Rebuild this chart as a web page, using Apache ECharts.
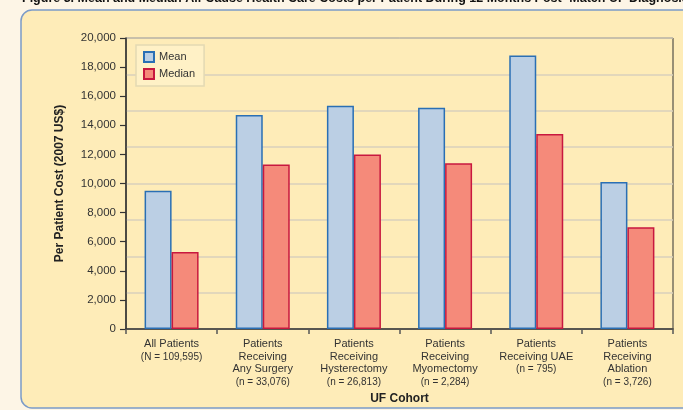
<!DOCTYPE html>
<html>
<head>
<meta charset="utf-8">
<script src="https://cdn.jsdelivr.net/npm/echarts@6/dist/echarts.min.js"></script>
<style>
  html, body { margin: 0; padding: 0; background: #fdf5e6; }
  #chart { width: 683px; height: 410px; }
</style>
</head>
<body>
<div id="chart"></div>
<script>
// Cohort names and sample sizes shown under each group of bars
const cohorts = ['All Patients', 'Patients\nReceiving\nAny Surgery', 'Patients\nReceiving\nHysterectomy',
  'Patients\nReceiving\nMyomectomy', 'Patients\nReceiving UAE', 'Patients\nReceiving\nAblation'];
const cohortSizes = ['(N = 109,595)', '(n = 33,076)', '(n = 26,813)', '(n = 2,284)', '(n = 795)', '(n = 3,726)'];

// Per patient cost, 2007 US$
const meanCost = [9500, 14700, 15350, 15200, 18800, 10100];
const medianCost = [5300, 11300, 12000, 11400, 13400, 7000];

const titleText = 'Figure 3. Mean and Median All-Cause Health Care Costs per Patient During 12 Months Post- Match UF Diagnosis';

const categories = cohorts.map((c, i) => c + '\n' + cohortSizes[i]);

const chart = echarts.init(document.getElementById('chart'), null, { renderer: 'canvas' });
const font = 'Liberation Sans, Arial, sans-serif';

chart.setOption({
  animation: false,
  backgroundColor: '#fdf5e6',
  textStyle: { fontFamily: font },
  graphic: [
    {
      type: 'rect', z: -100, silent: true,
      shape: { x: 21, y: 10, width: 720, height: 398, r: 11 },
      style: { fill: '#feecb8', stroke: '#7b9bc8', lineWidth: 1.5 }
    },
    {
      type: 'text', z: 10, left: 22, top: -8,
      style: { text: titleText, font: 'bold 12.5px ' + font, fill: '#111' }
    }
  ],
  legend: {
    orient: 'vertical',
    left: 136, top: 45,
    padding: [6, 9, 6, 7],
    itemGap: 5,
    itemWidth: 10, itemHeight: 10,
    icon: 'rect',
    backgroundColor: '#fff1c6',
    borderColor: '#e3d9b3',
    borderWidth: 1.5,
    textStyle: { fontSize: 11, color: '#333', fontFamily: font },
    data: ['Mean', 'Median']
  },
  grid: {
    left: 126, right: 10, top: 38, bottom: 78,
    show: true, borderColor: '#333', borderWidth: 1, backgroundColor: 'transparent'
  },
  xAxis: {
    type: 'category',
    data: categories,
    name: 'UF Cohort',
    nameLocation: 'middle',
    nameGap: 64,
    nameTextStyle: { fontSize: 12, fontWeight: 'bold', color: '#222', fontFamily: font },
    axisLine: { lineStyle: { color: '#333', width: 1.5 } },
    axisTick: { show: true, length: 5, lineStyle: { color: '#555', width: 1.5 } },
    axisLabel: {
      interval: 0, margin: 9,
      formatter: function (v) {
        const parts = v.split('\n');
        const n = parts.pop();
        return parts.map(p => '{m|' + p + '}').join('\n') + '\n{n|' + n + '}';
      },
      rich: {
        m: { fontSize: 11, lineHeight: 12.5, color: '#333', fontFamily: font },
        n: { fontSize: 10, lineHeight: 12.5, color: '#333', fontFamily: font }
      }
    }
  },
  yAxis: [
    {
      type: 'value', min: 0, max: 20000, interval: 2000,
      name: 'Per Patient Cost (2007 US$)',
      nameLocation: 'middle', nameGap: 60, nameRotate: 90,
      nameTextStyle: { fontSize: 12, fontWeight: 'bold', color: '#222', fontFamily: font },
      axisLine: { show: true, lineStyle: { color: '#333', width: 1.5 } },
      axisTick: { show: true, length: 6, lineStyle: { color: '#333', width: 1.2 } },
      axisLabel: {
        margin: 10, fontSize: 11.5, color: '#333', fontFamily: font,
        formatter: v => v.toLocaleString('en-US')
      },
      splitLine: { show: false }
    },
    {
      // gridlines sit at 2,500 steps independently of the labelled ticks
      type: 'value', min: 0, max: 20000, interval: 2500, position: 'left',
      axisLine: { show: false }, axisTick: { show: false }, axisLabel: { show: false },
      splitLine: { show: true, lineStyle: { color: '#d8d1bd', width: 1.5 } }
    }
  ],
  series: [
    {
      name: 'Mean', type: 'bar', data: meanCost, yAxisIndex: 0,
      barWidth: 27, barGap: '0%',
      itemStyle: { color: '#bbcfe4', borderColor: '#2a6fb4', borderWidth: 1.5 }
    },
    {
      name: 'Median', type: 'bar', data: medianCost, yAxisIndex: 0,
      barWidth: 27, barGap: '0%',
      itemStyle: { color: '#f58a7a', borderColor: '#c8183f', borderWidth: 1.5 }
    }
  ]
});
</script>
</body>
</html>
